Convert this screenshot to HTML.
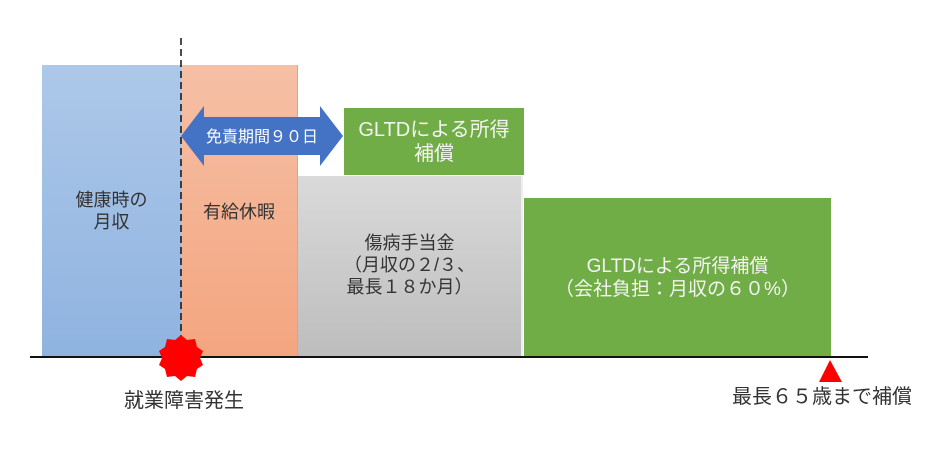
<!DOCTYPE html>
<html><head><meta charset="utf-8"><style>
body{margin:0;width:940px;height:449px;background:#fff;position:relative;overflow:hidden;font-family:"Liberation Sans","Noto Sans CJK JP",sans-serif;}
.b{position:absolute;display:flex;align-items:flex-start;justify-content:center;text-align:center;font-size:18px;line-height:22px;box-sizing:border-box;}
.t{position:absolute;font-size:20px;line-height:24px;color:#333;white-space:nowrap;}
</style></head><body>
<div class="b" style="left:42px;top:65px;width:139px;height:292px;background:linear-gradient(#adc8e9,#8fb3e0);color:#333;padding-top:124px">健康時の<br>月収</div>
<div class="b" style="left:181px;top:65px;width:117px;height:292px;background:linear-gradient(#f5c0a6,#f4a57f);color:#333;padding-top:136px;border-right:1px solid #e8a080">有給休暇</div>
<div class="b" style="left:298px;top:176px;width:225px;height:181px;background:linear-gradient(#dadada,#bdbdbd);color:#333;border-right:2px solid #eee;padding-top:56px">傷病手当金<br>（月収の２/３、<br>最長１８か月）</div>
<div class="b" style="left:524px;top:198px;width:307px;height:159px;background:#70ad47;color:#f4f4f4;padding-top:57px;font-size:19px;line-height:23px">GLTDによる所得補償<br>（会社負担：月収の６０%）</div>
<div class="b" style="left:344px;top:108px;width:180px;height:67px;background:#70ad47;color:#f4f4f4;font-size:20px;line-height:24px;align-items:center">GLTDによる所得<br>補償</div>
<svg width="940" height="449" style="position:absolute;left:0;top:0">
<polygon points="181,136 204,106 204,117 320,117 320,106 343,136 320,166 320,155 204,155 204,166" fill="#4472c4"/>
<text x="262" y="142" font-size="16" fill="#fff" text-anchor="middle" font-family="Liberation Sans,Noto Sans CJK JP,sans-serif">免責期間９０日</text>
<line x1="181" y1="38" x2="181" y2="357" stroke="#111" stroke-width="1.5" stroke-dasharray="7,4"/>
<line x1="30" y1="357" x2="868" y2="357" stroke="#111" stroke-width="2"/>
<polygon points="181,335 187,340 195,339 197,347 203,351 200,358 203,365 197,369 195,377 187,376 181,381 175,376 167,377 165,369 159,365 162,358 159,351 165,347 167,339 175,340" fill="#f00"/>
<polygon points="830,360 819,382 842,382" fill="#f00"/>
</svg>
<div class="t" style="left:124px;top:389px">就業障害発生</div>
<div class="t" style="left:732px;top:385px">最長６５歳まで補償</div>
</body></html>
